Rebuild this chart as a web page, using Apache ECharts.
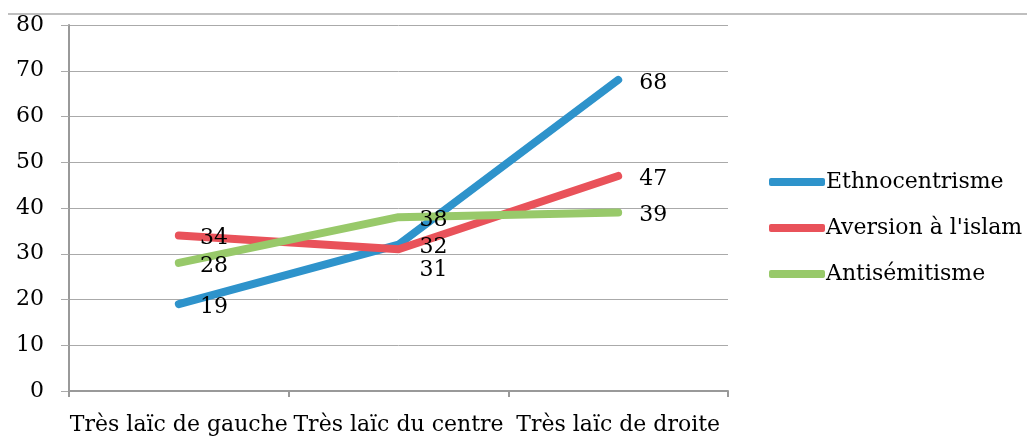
<!DOCTYPE html>
<html>
<head>
<meta charset="utf-8">
<script src="https://cdn.jsdelivr.net/npm/echarts@6/dist/echarts.min.js"></script>
<style>
  html, body { margin: 0; padding: 0; background: #fff; }
  #chart { width: 1027px; height: 438px; }
</style>
</head>
<body>
<div id="chart"></div>
<script>
const categories = ["Très laïc de gauche", "Très laïc du centre", "Très laïc de droite"];
const ethnocentrisme = [19, 32, 68];
const aversionIslam = [34, 31, 47];
const antisemitisme = [28, 38, 39];
const yTicks = [0, 10, 20, 30, 40, 50, 60, 70, 80];

const font = "'DejaVu Serif', 'Liberation Serif', serif";
const fs = 22;
const chart = echarts.init(document.getElementById("chart"));

// vertical nudges of the value labels, per series and point
const labelDy = [[3, 3, 3], [3, 21, 3], [3, 3, 3]];

function makeSeries(name, data, color) {
  return {
    name: name,
    type: "line",
    data: data,
    showSymbol: true,
    symbol: "circle",
    symbolSize: 0.1,
    lineStyle: { width: 8, color: color, cap: "round", join: "round" },
    itemStyle: { color: color },
    label: {
      show: true,
      position: "right",
      distance: 21,
      color: "#000",
      fontFamily: font,
      fontSize: fs
    },
    labelLayout: function (p) {
      return { dy: labelDy[p.seriesIndex][p.dataIndex], hideOverlap: false };
    },
    z: 3
  };
}

const option = {
  animation: false,
  grid: { left: 69, right: 299, top: 25, bottom: 47, containLabel: false },
  xAxis: {
    type: "category",
    data: categories,
    boundaryGap: true,
    axisLine: { lineStyle: { color: "#999", width: 2 } },
    axisTick: { show: true, length: 6, lineStyle: { color: "#999", width: 2 } },
    axisLabel: { color: "#000", fontFamily: font, fontSize: fs, margin: 23, interval: 0, hideOverlap: false },
    splitLine: { show: false }
  },
  yAxis: {
    type: "value",
    min: yTicks[0],
    max: yTicks[yTicks.length - 1],
    interval: 10,
    axisLine: { show: true, lineStyle: { color: "#999", width: 2 } },
    axisTick: { show: true, length: 8, lineStyle: { color: "#aaa", width: 1 } },
    axisLabel: { color: "#000", fontFamily: font, fontSize: fs, margin: 25 },
    splitLine: { show: true, lineStyle: { color: "#aaa", width: 1 } }
  },
  legend: {
    orient: "vertical",
    left: 764,
    top: 166,
    itemWidth: 56,
    itemHeight: 8,
    itemGap: 24,
    icon: "roundRect",
    textStyle: { color: "#000", fontFamily: font, fontSize: fs, padding: [0, 0, 0, -4] },
    data: ["Ethnocentrisme", "Aversion à l'islam", "Antisémitisme"]
  },
  graphic: [{
    type: "line",
    shape: { x1: 8, y1: 14, x2: 1027, y2: 14 },
    style: { stroke: "#aaa", lineWidth: 1.5 }
  }],
  series: [
    makeSeries("Ethnocentrisme", ethnocentrisme, "#2E93CB"),
    makeSeries("Aversion à l'islam", aversionIslam, "#E9525A"),
    makeSeries("Antisémitisme", antisemitisme, "#98C96A")
  ]
};
chart.setOption(option);
</script>
</body>
</html>
